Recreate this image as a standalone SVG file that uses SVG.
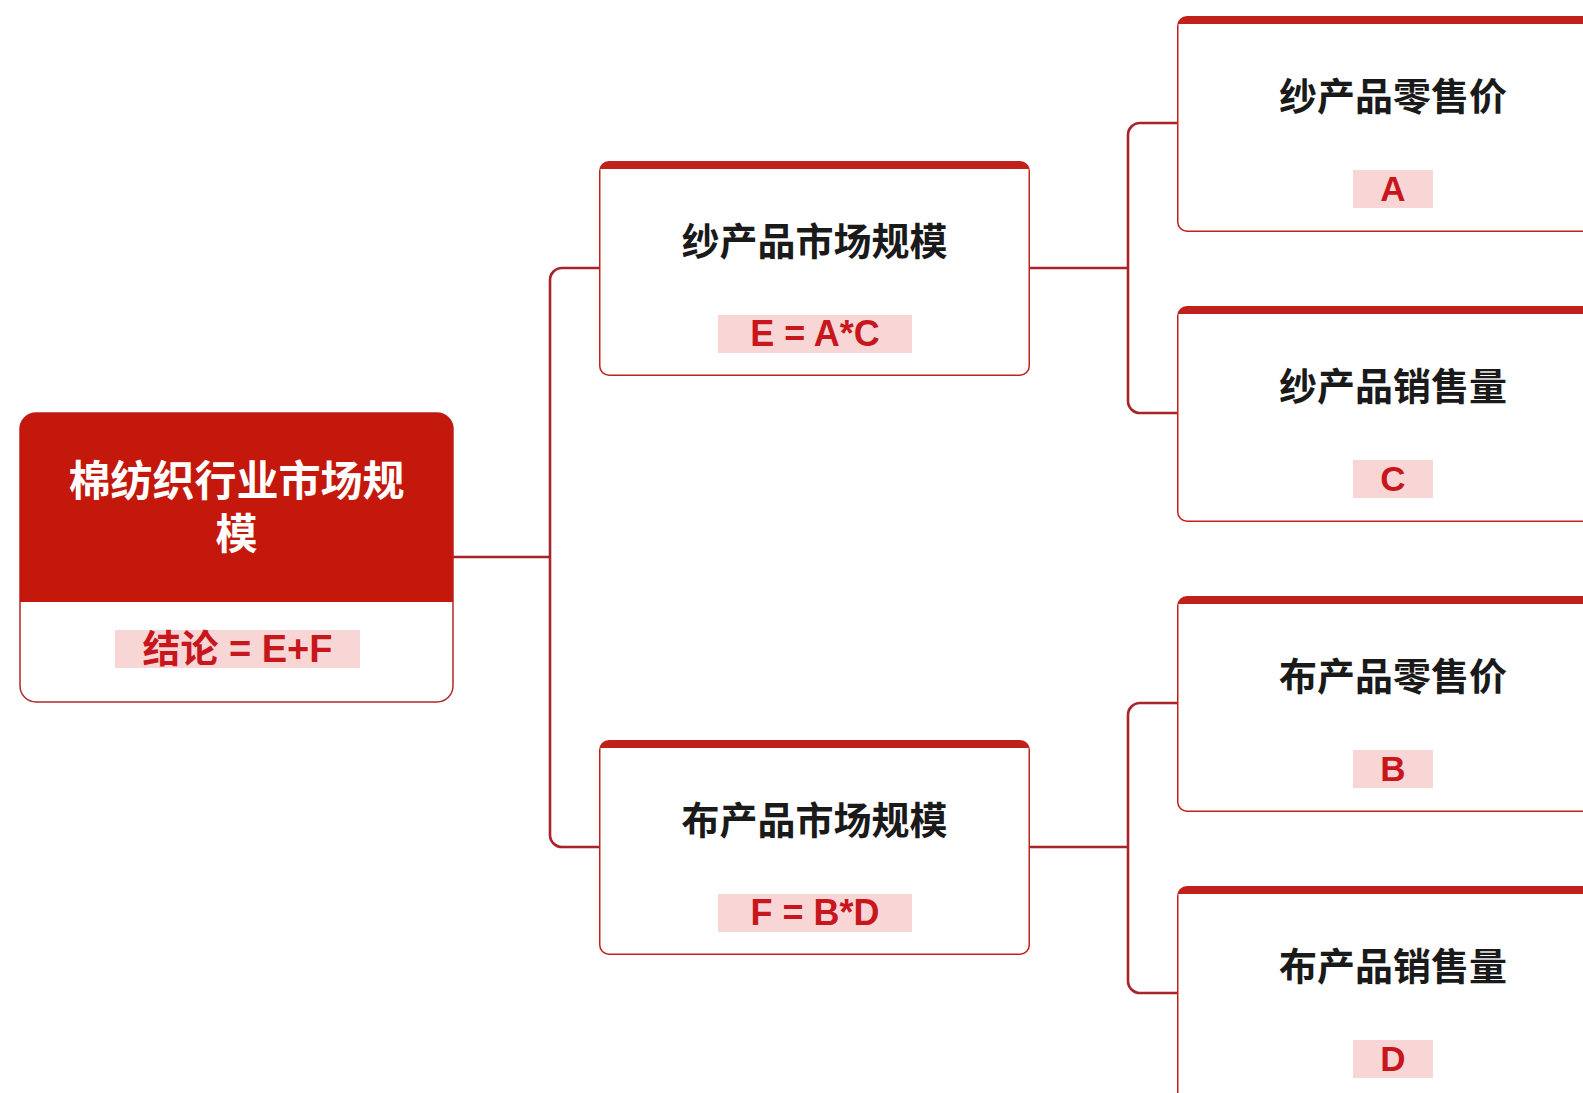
<svg xmlns="http://www.w3.org/2000/svg" xmlns:xlink="http://www.w3.org/1999/xlink" width="1583" height="1093" viewBox="0 0 1583 1093">
<style>
.conn{fill:none;stroke:#A8232A;stroke-width:2.6}
.title{font-family:"Noto Sans CJK SC","Liberation Sans",sans-serif;font-weight:700;font-size:38px;fill:#1a1a1a;text-anchor:middle;dominant-baseline:central}
.rtitle{font-family:"Noto Sans CJK SC","Liberation Sans",sans-serif;font-weight:700;font-size:42px;fill:#ffffff;text-anchor:middle;dominant-baseline:central}
.lbg{fill:#F8D6D6}
.ltxt{font-family:"Liberation Sans","Noto Sans CJK SC",sans-serif;font-weight:700;fill:#C8161D;text-anchor:middle;dominant-baseline:central}
</style>
<defs>
<g id="midShape">
<rect x="0" y="0" width="431" height="215" rx="10" fill="#C0211A"/>
<path d="M1.5,8 H429.5 V205 A8.5,8.5 0 0 1 421,213.5 H10 A8.5,8.5 0 0 1 1.5,205 Z" fill="#ffffff"/>
</g>
<g id="rightShape">
<rect x="0" y="0" width="432" height="216" rx="10" fill="#C0211A"/>
<path d="M1.5,8 H430.5 V206 A8.5,8.5 0 0 1 422,214.5 H10 A8.5,8.5 0 0 1 1.5,206 Z" fill="#ffffff"/>
</g>
</defs>
<rect width="1583" height="1093" fill="#ffffff"/>
<g id="connectors">
<path class="conn" d="M453,557 H550"/>
<path class="conn" d="M599,268 H562 A12,12 0 0 0 550,280 V835 A12,12 0 0 0 562,847 H599"/>
<path class="conn" d="M1030,268 H1128"/>
<path class="conn" d="M1177,123 H1140 A12,12 0 0 0 1128,135 V401 A12,12 0 0 0 1140,413 H1177"/>
<path class="conn" d="M1030,847 H1128"/>
<path class="conn" d="M1177,703 H1140 A12,12 0 0 0 1128,715 V981 A12,12 0 0 0 1140,993 H1177"/>
</g>
<g id="node-root" transform="translate(20,413)">
<rect x="0" y="0" width="433" height="289" rx="16" fill="#ffffff" stroke="#B0282A" stroke-width="1.5"/>
<path d="M0,189 V16 A16,16 0 0 1 16,0 H417 A16,16 0 0 1 433,16 V189 Z" fill="#C4180C"/>
<text class="rtitle"><tspan x="216.5" y="64">棉纺织行业市场规</tspan><tspan x="216.5" y="117">模</tspan></text>
<rect class="lbg" x="95" y="217" width="245" height="38"/>
<text class="ltxt" x="217.5" y="236" font-size="38">结论 = E+F</text>
</g>
<g id="node-yarn-market" transform="translate(599,161)">
<use xlink:href="#midShape"/>
<text class="title" x="215.5" y="77">纱产品市场规模</text>
<rect class="lbg" x="119" y="154" width="194" height="38"/>
<text class="ltxt" x="216" y="172" font-size="36">E = A*C</text>
</g>
<g id="node-cloth-market" transform="translate(599,740)">
<use xlink:href="#midShape"/>
<text class="title" x="215.5" y="77">布产品市场规模</text>
<rect class="lbg" x="119" y="154" width="194" height="38"/>
<text class="ltxt" x="216" y="172" font-size="36">F = B*D</text>
</g>
<g id="node-yarn-price" transform="translate(1177,16)">
<use xlink:href="#rightShape"/>
<text class="title" x="216" y="77">纱产品零售价</text>
<rect class="lbg" x="176" y="154" width="80" height="38"/>
<text class="ltxt" x="216" y="172" font-size="35">A</text>
</g>
<g id="node-yarn-volume" transform="translate(1177,306)">
<use xlink:href="#rightShape"/>
<text class="title" x="216" y="77">纱产品销售量</text>
<rect class="lbg" x="176" y="154" width="80" height="38"/>
<text class="ltxt" x="216" y="172" font-size="35">C</text>
</g>
<g id="node-cloth-price" transform="translate(1177,596)">
<use xlink:href="#rightShape"/>
<text class="title" x="216" y="77">布产品零售价</text>
<rect class="lbg" x="176" y="154" width="80" height="38"/>
<text class="ltxt" x="216" y="172" font-size="35">B</text>
</g>
<g id="node-cloth-volume" transform="translate(1177,886)">
<use xlink:href="#rightShape"/>
<text class="title" x="216" y="77">布产品销售量</text>
<rect class="lbg" x="176" y="154" width="80" height="38"/>
<text class="ltxt" x="216" y="172" font-size="35">D</text>
</g>
</svg>
